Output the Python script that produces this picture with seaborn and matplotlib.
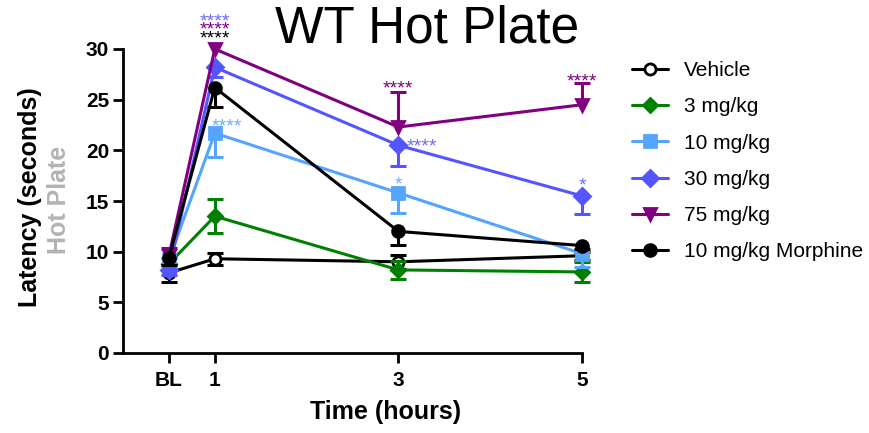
import numpy as np
import pandas as pd
import matplotlib
matplotlib.use("Agg")
import matplotlib.pyplot as plt
import seaborn as sns

# Time points (BL = baseline, plotted at 0.5 h)
time_hours = [0.5, 1, 3, 5]
time_labels = ["BL", "1", "3", "5"]

# Mean latency (s) and SEM per treatment group
groups = ["Vehicle", "3 mg/kg", "10 mg/kg", "30 mg/kg", "75 mg/kg", "10 mg/kg Morphine"]
vehicle_mean = [7.9, 9.3, 9.0, 9.6]
vehicle_sem = [0.9, 0.6, 0.7, 0.4]
mg3_mean = [8.8, 13.5, 8.2, 8.0]
mg3_sem = [0.6, 1.7, 0.9, 1.0]
mg10_mean = [9.2, 21.7, 15.8, 9.8]
mg10_sem = [0.6, 2.4, 2.0, 1.3]
mg30_mean = [8.2, 28.2, 20.5, 15.5]
mg30_sem = [0.5, 1.0, 2.0, 1.8]
mg75_mean = [9.6, 30.0, 22.3, 24.5]
mg75_sem = [0.8, 0.0, 3.5, 2.1]
morphine_mean = [9.4, 26.2, 12.0, 10.6]
morphine_sem = [0.7, 1.9, 1.3, 0.3]

# Which side of the mean each group's error bar is drawn on
err_side = ["both", "both", "down", "down", "up", "down"]

# Significance marks: (group, time index, stars, where, dx pt, dy pt)
significance = [
    ("30 mg/kg", 1, "****", "axis_top", 0, 24.3),
    ("75 mg/kg", 1, "****", "axis_top", 0, 18.2),
    ("10 mg/kg Morphine", 1, "****", "axis_top", 0, 12.0),
    ("10 mg/kg", 1, "****", "point", 8.6, 9.4),
    ("75 mg/kg", 2, "****", "err_top", 0, 6.5),
    ("30 mg/kg", 2, "****", "point", 17.0, 3.8),
    ("10 mg/kg", 2, "*", "point", 0, 10.7),
    ("75 mg/kg", 3, "****", "err_top", 0, 5.9),
    ("30 mg/kg", 3, "*", "point", 0, 12.2),
]

means = [vehicle_mean, mg3_mean, mg10_mean, mg30_mean, mg75_mean, morphine_mean]
sems = [vehicle_sem, mg3_sem, mg10_sem, mg30_sem, mg75_sem, morphine_sem]

colors = ["#000000", "#008000", "#55a5ff", "#5555ff", "#800080", "#000000"]
star_colors = ["#000000", "#008000", "#6aafff", "#6a6aff", "#800080", "#000000"]
markers = ["o", "D", "s", "D", "v", "o"]
marker_sizes = [8, 7.5, 8, 8.5, 9, 8.5]
face_colors = ["white", "#008000", "#55a5ff", "#5555ff", "#800080", "#000000"]

rows = []
for g, m, s in zip(groups, means, sems):
    for t, lab, v, e in zip(time_hours, time_labels, m, s):
        rows.append({"group": g, "hours": t, "label": lab, "latency": v, "sem": e})
df = pd.DataFrame(rows)

sns.set_style("ticks")
plt.rcParams["font.family"] = ["Liberation Sans", "DejaVu Sans"]
plt.rcParams["text.color"] = "black"
plt.rcParams["axes.labelcolor"] = "black"
plt.rcParams["xtick.color"] = "black"
plt.rcParams["ytick.color"] = "black"

W, H = 869, 433
fig = plt.figure(figsize=(W / 100, H / 100), dpi=100)
ax = fig.add_axes([123 / W, 1 - 353 / H, 459 / W, 304 / H])

lw = 2.2
for i, g in enumerate(groups):
    sub = df[df["group"] == g]
    z = 3 + i
    x = sub["hours"].to_numpy()
    y = sub["latency"].to_numpy()
    e = sub["sem"].to_numpy()
    side = err_side[i]
    lo = y - e if side in ("both", "down") else y
    hi = y + e if side in ("both", "up") else y
    ax.vlines(x, lo, hi, color=colors[i], linewidth=lw, zorder=z, clip_on=False)
    caps_y = []
    caps_x = []
    if side in ("both", "down"):
        caps_x += list(x[e > 0]); caps_y += list(lo[e > 0])
    if side in ("both", "up"):
        caps_x += list(x[e > 0]); caps_y += list(hi[e > 0])
    ax.plot(caps_x, caps_y, linestyle="none", marker="_", markersize=12,
            markeredgewidth=lw, color=colors[i], zorder=z, clip_on=False)
    sns.lineplot(data=sub, x="hours", y="latency", ax=ax, color=colors[i],
                 marker=markers[i], markersize=marker_sizes[i],
                 markerfacecolor=face_colors[i], markeredgecolor=colors[i],
                 markeredgewidth=2.0, linewidth=lw, label=g, zorder=z + 0.5,
                 clip_on=False, errorbar=None)

# significance asterisks
gindex = {g: i for i, g in enumerate(groups)}
for g, ti, stars, where, dx, dy in significance:
    i = gindex[g]
    xv = time_hours[ti]
    if where == "axis_top":
        yv = 30
    elif where == "err_top":
        yv = means[i][ti] + sems[i][ti]
    else:
        yv = means[i][ti]
    ax.annotate(stars, xy=(xv, yv), xytext=(dx, dy - 8.0), textcoords="offset points",
                ha="center", va="baseline", fontsize=14, color=star_colors[i],
                annotation_clip=False, zorder=20)

ax.set_xlim(0, 5)
ax.set_ylim(0, 30)
ax.set_xticks(time_hours)
ax.set_xticklabels(time_labels)
ax.set_yticks(np.arange(0, 31, 5))
for s in ["top", "right"]:
    ax.spines[s].set_visible(False)
for s in ["left", "bottom"]:
    ax.spines[s].set_linewidth(2)
    ax.spines[s].set_color("black")
ax.tick_params(axis="both", length=7, width=2, color="black", labelsize=15,
               pad=3, labelcolor="black")
ax.tick_params(axis="x", pad=6)
for t in ax.get_xticklabels() + ax.get_yticklabels():
    t.set_fontweight("bold")
ax.set_xlabel("")
ax.set_ylabel("")

fig.text(386 / W, 1 - 412 / H, "Time (hours)", ha="center", va="center",
         fontsize=18, fontweight="bold", color="black")
fig.text(30 / W, 1 - 197 / H, "Latency (seconds)", rotation=90, ha="center",
         va="center", fontsize=18, fontweight="bold", color="black")
fig.text(59 / W, 1 - 200 / H, "Hot Plate", rotation=90, ha="center",
         va="center", fontsize=18, fontweight="bold", color="#b3b3b3")
fig.text(427 / W, 1 - 29 / H, "WT Hot Plate", ha="center", va="center",
         fontsize=37, color="black")

handles, labels = ax.get_legend_handles_labels()
if ax.legend_:
    ax.legend_.remove()
fig.legend(handles, labels, loc="upper left", bbox_to_anchor=(632 / W, 1 - 61 / H),
           frameon=False, fontsize=15, handlelength=1.75, handletextpad=0.75,
           labelspacing=0.83, borderpad=0, borderaxespad=0, labelcolor="black")

fig.savefig("out.png", dpi=100)
